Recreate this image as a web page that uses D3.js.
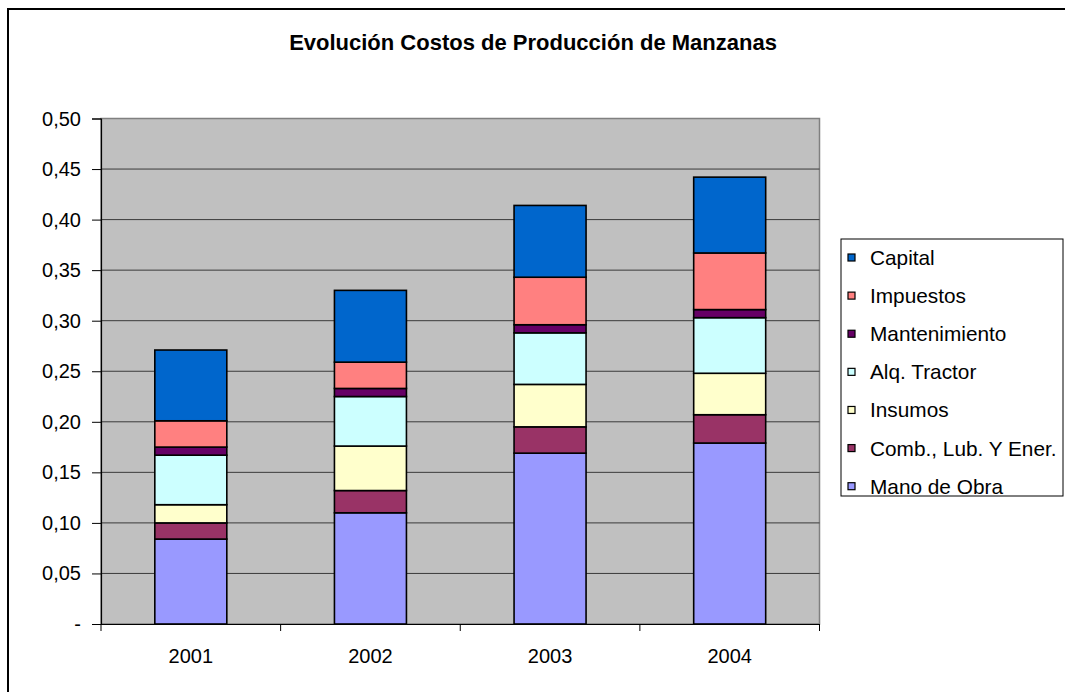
<!DOCTYPE html>
<html>
<head>
<meta charset="utf-8">
<script src="https://cdn.jsdelivr.net/npm/d3@7"></script>
<style>
  body { margin: 0; background: #fff; }
  svg { display: block; font-family: "Liberation Sans", Arial, sans-serif; }
</style>
</head>
<body>
<svg id="chart" width="1065" height="692"></svg>
<script>
// data
const years = ["2001", "2002", "2003", "2004"];
const series = ["Mano de Obra", "Comb., Lub. Y Ener.", "Insumos", "Alq. Tractor", "Mantenimiento", "Impuestos", "Capital"];
const manoObra  = [0.084, 0.110, 0.169, 0.179];
const combLub   = [0.016, 0.022, 0.026, 0.028];
const insumos   = [0.018, 0.044, 0.042, 0.041];
const alqTractor= [0.049, 0.049, 0.051, 0.055];
const manten    = [0.008, 0.008, 0.008, 0.008];
const impuestos = [0.026, 0.026, 0.047, 0.056];
const capital   = [0.070, 0.071, 0.071, 0.075];
const yTicks = [0, 0.05, 0.10, 0.15, 0.20, 0.25, 0.30, 0.35, 0.40, 0.45, 0.50];
const colors = ["#9999FF", "#993366", "#FFFFCC", "#CCFFFF", "#660066", "#FF8080", "#0066CC"];

const values = [manoObra, combLub, insumos, alqTractor, manten, impuestos, capital];
const table = years.map((y, i) => {
  const row = { year: y };
  series.forEach((s, k) => row[s] = values[k][i]);
  return row;
});

const svg = d3.select("#chart");
const margin = { left: 101, right: 245.5, top: 118.5, bottom: 68 };
const width = 1065 - margin.left - margin.right;
const height = 692 - margin.top - margin.bottom;

function label(g, x, y, txt, size, anchor, weight) {
  return g.append("text")
    .attr("x", x).attr("y", y)
    .attr("text-anchor", anchor)
    .style("font-size", size + "px")
    .style("font-weight", weight || "normal")
    .attr("fill", "#000")
    .text(txt);
}

// outer frame (runs off the right and bottom of the picture)
svg.append("rect")
  .attr("x", 8).attr("y", 9)
  .attr("width", 1100).attr("height", 720)
  .attr("fill", "none").attr("stroke", "#000").attr("stroke-width", 2);

label(svg, 533, 50, "Evolución Costos de Producción de Manzanas", 22, "middle", "bold");

const chart = svg.append("g").attr("transform", `translate(${margin.left},${margin.top})`);

const xCat = d3.scaleBand().domain(years).range([0, width]);
const y = d3.scaleLinear().domain([0, 0.5]).range([height, 0]);

chart.append("rect")
  .attr("width", width).attr("height", height)
  .attr("fill", "#C0C0C0").attr("stroke", "#808080").attr("stroke-width", 1.5);

// gridlines
chart.append("g")
  .selectAll("line")
  .data(yTicks.slice(1, -1))
  .join("line")
  .attr("x1", 0).attr("x2", width)
  .attr("y1", d => y(d)).attr("y2", d => y(d))
  .attr("stroke", "#3a3a3a").attr("stroke-width", 1);

// stacked bars
const stacked = d3.stack().keys(series)(table);
chart.append("g")
  .selectAll("g")
  .data(stacked)
  .join("g")
  .attr("fill", (d, i) => colors[i])
  .selectAll("rect")
  .data(d => d)
  .join("rect")
  .attr("x", d => xCat(d.data.year) + (xCat.bandwidth() - 72) / 2)
  .attr("width", 72)
  .attr("y", d => y(d[1]))
  .attr("height", d => y(d[0]) - y(d[1]))
  .attr("stroke", "#000").attr("stroke-width", 1.6);

// y axis
const yAxis = chart.append("g")
  .call(d3.axisLeft(y).tickValues(yTicks).tickSize(9).tickFormat(() => ""));
yAxis.select(".domain").attr("stroke", "#000").attr("stroke-width", 1.2);
yAxis.selectAll(".tick line").attr("stroke", "#000");
yTicks.forEach(t => {
  const txt = t === 0 ? "-" : d3.format(".2f")(t).replace(".", ",");
  label(chart, -20, y(t) + 7, txt, 20, "end");
});

// x axis
const xAxis = chart.append("g")
  .attr("transform", `translate(0,${height})`)
  .call(d3.axisBottom(xCat).tickSize(0).tickFormat(() => ""));
xAxis.select(".domain").attr("stroke", "#000").attr("stroke-width", 1.2);
chart.append("g")
  .selectAll("line")
  .data(d3.range(years.length + 1))
  .join("line")
  .attr("x1", i => i * xCat.step()).attr("x2", i => i * xCat.step())
  .attr("y1", height).attr("y2", height + 7)
  .attr("stroke", "#000");
years.forEach(yr => {
  label(chart, xCat(yr) + xCat.bandwidth() / 2, height + 39, yr, 20, "middle");
});

// legend
const legend = svg.append("g").attr("transform", "translate(841,239)");
legend.append("rect")
  .attr("width", 222).attr("height", 257)
  .attr("fill", "#fff").attr("stroke", "#000").attr("stroke-width", 1);
const legendOrder = series.slice().reverse();
const rowY = d3.scalePoint().domain(legendOrder).range([19, 247.7]);
legendOrder.forEach(s => {
  const k = series.indexOf(s);
  legend.append("rect")
    .attr("x", 7).attr("y", rowY(s) - 4)
    .attr("width", 7).attr("height", 7)
    .attr("fill", colors[k]).attr("stroke", "#000").attr("stroke-width", 1.2);
  label(legend, 29, rowY(s) + 7, s, 20.8, "start");
});
</script>
</body>
</html>
